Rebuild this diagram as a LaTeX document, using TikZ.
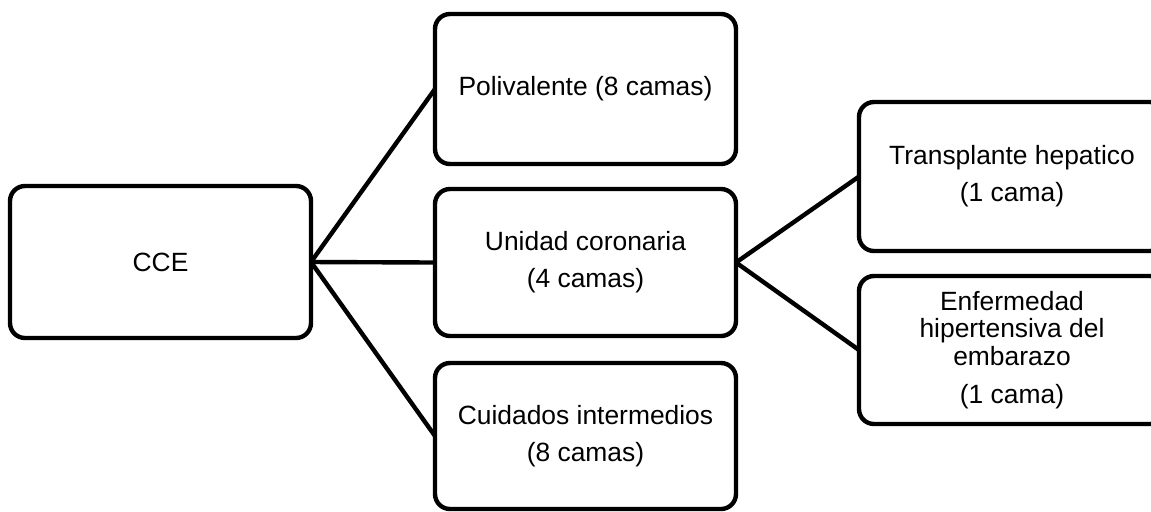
\documentclass[tikz,border=0pt]{standalone}
\usepackage{fontspec}
\setmainfont{Liberation Sans}
\begin{document}
\begin{tikzpicture}[x=0.5pt,y=-0.5pt,
  box/.style={draw=black, line width=2.2pt, rounded corners=7.5pt, fill=white,
    inner sep=0pt, outer sep=0pt, align=center,
    font=\fontsize{13.2}{13.75}\selectfont},
  link/.style={draw=black, line width=2.2pt}]
\clip (0,0) rectangle (1151,511);
\fill[white] (0,0) rectangle (1151,511);
\node[box, minimum width=150.5pt, minimum height=76pt] (cce) at (160.5,262) {CCE};
\node[box, minimum width=150.5pt, minimum height=75pt] (poli) at (585.5,89) {Polivalente (8 camas)};
\node[box, minimum width=150.5pt, minimum height=73.5pt] (unid) at (585.5,262.5) {Unidad coronaria\\[4.6pt](4 camas)};
\node[box, minimum width=150.5pt, minimum height=73pt] (cuid) at (585.5,436) {Cuidados intermedios\\[4.6pt](8 camas)};
\node[box, minimum width=153pt, minimum height=74.5pt] (trans) at (1012,176.5) {Transplante hepatico\\[4.6pt](1 cama)};
\node[box, minimum width=153pt, minimum height=74pt] (enf) at (1012,350) {Enfermedad\\hipertensiva del\\embarazo\\[5.2pt](1 cama)};
\draw[link] (cce.east) -- (poli.west);
\draw[link] (cce.east) -- (unid.west);
\draw[link] (cce.east) -- (cuid.west);
\draw[link] (unid.east) -- (trans.west);
\draw[link] (unid.east) -- (enf.west);
\end{tikzpicture}
\end{document}
